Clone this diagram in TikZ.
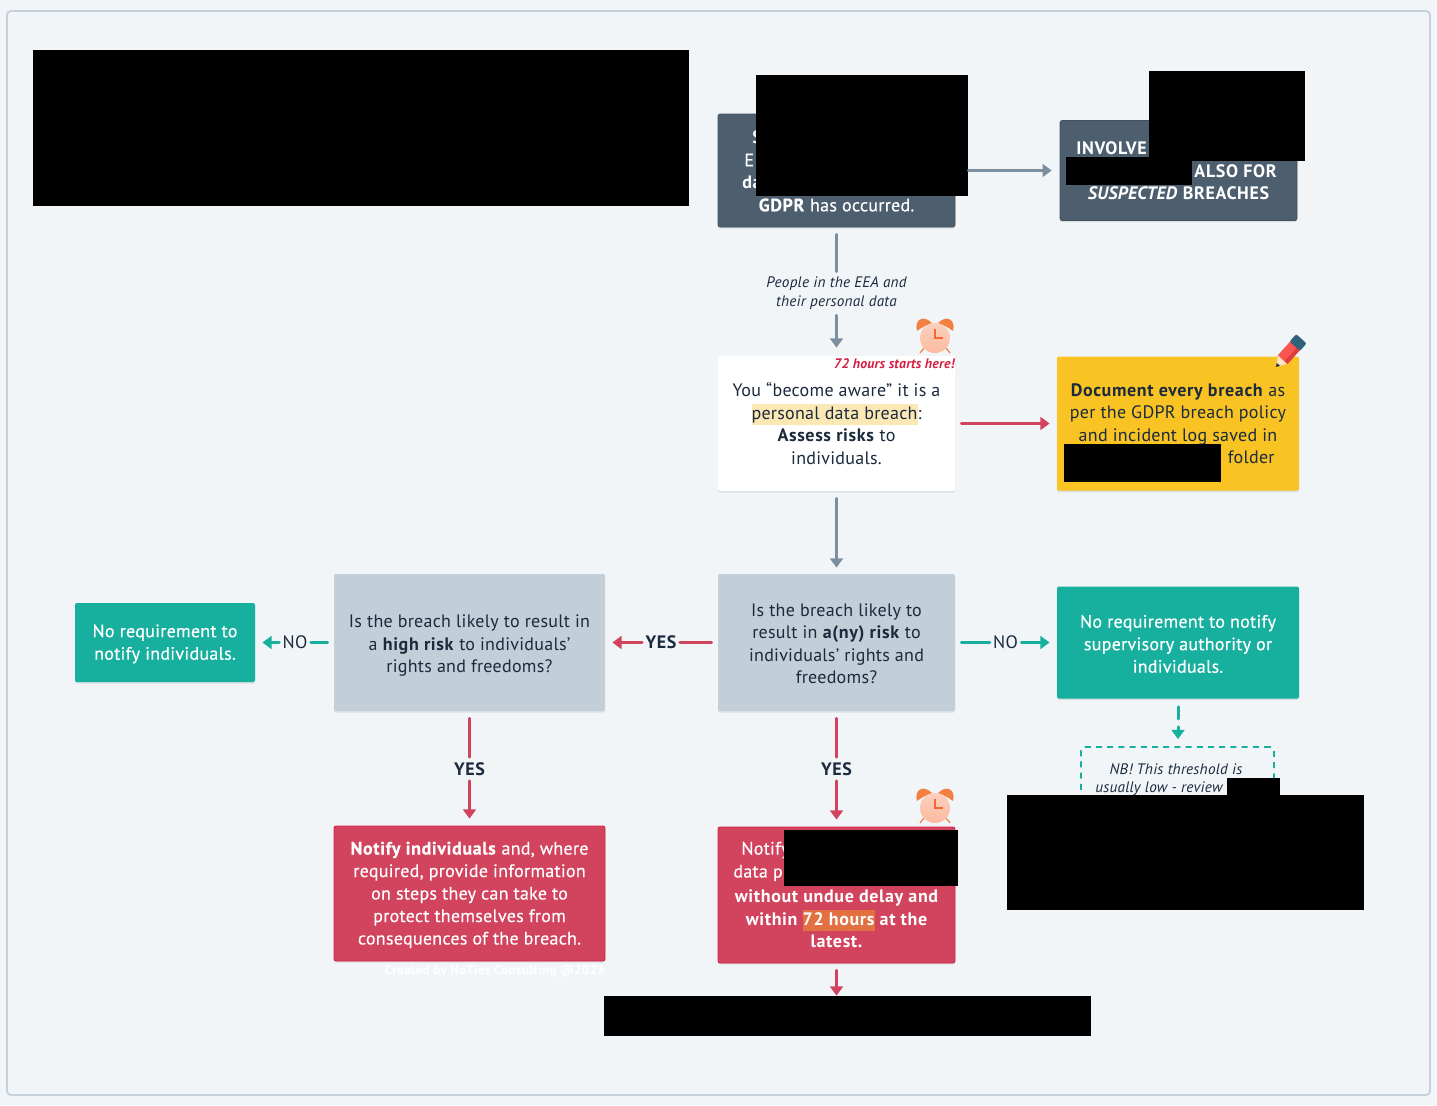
\documentclass[tikz,border=0pt]{standalone}
\usepackage{fontspec}
\setmainfont{PT Sans}[LetterSpace=1.5,BoldFeatures={LetterSpace=3.5}]
\newfontfamily\wfont{PT Sans}[LetterSpace=1.5,FakeBold=0.35,BoldFeatures={LetterSpace=3.5}]
\usetikzlibrary{arrows.meta,shadows,calc}
\definecolor{pagebg}{HTML}{F2F5F8}
\definecolor{framec}{HTML}{C6D1DB}
\definecolor{slate}{HTML}{4D5F6F}
\definecolor{ink}{HTML}{1B2A3D}
\definecolor{greyb}{HTML}{C2CFD9}
\definecolor{arrowg}{HTML}{7C8FA1}
\definecolor{redb}{HTML}{D2435E}
\definecolor{redd}{HTML}{D61F45}
\definecolor{greenb}{HTML}{17AF9D}
\definecolor{yellowb}{HTML}{F8C323}
\definecolor{hlyellow}{HTML}{FCE8B4}
\definecolor{hlorange}{HTML}{E27040}
\definecolor{clockb}{HTML}{FBBBA0}
\definecolor{clocko}{HTML}{F28040}
\definecolor{pencilr}{HTML}{F8564F}
\definecolor{pencild}{HTML}{E03E3E}
\definecolor{pencilt}{HTML}{2F6378}
\definecolor{pencilw}{HTML}{FBE3C8}
\newcommand{\hlt}[2]{{\setlength{\fboxsep}{0pt}\colorbox{#1}{\vrule height 7.6pt depth 2.8pt width 0pt #2}}}
\newcommand{\tpa}{\rule{0pt}{7.8pt}}
\newcommand{\tpb}{\rule{0pt}{9.8pt}}
\tikzset{
  x=0.5pt,y=-0.5pt,
  box/.style={rectangle,rounded corners=1pt,inner sep=0pt,align=center,font=\fontsize{9}{11.25}\selectfont,
    text=ink,drop shadow={opacity=.18,shadow xshift=0pt,shadow yshift=-0.8pt,shadow scale=1.0}},
  darkbox/.style={box,fill=slate,text=white,draw=slate!85!black,line width=.3pt,font=\fontsize{9}{11.25}\bfseries\selectfont},
  whitebox/.style={box,fill=white},
  greybox/.style={box,fill=greyb},
  redbox/.style={box,fill=redb,draw=redd,line width=.4pt,text=white,font=\fontsize{9}{11.25}\wfont},
  greenbox/.style={box,fill=greenb,text=white,font=\fontsize{9}{11.25}\wfont},
  yellowbox/.style={box,fill=yellowb},
  hidden/.style={fill=black,inner sep=0pt,rectangle},
  txt/.style={inner sep=0pt,text=ink,font=\fontsize{9}{11.25}\selectfont},
  small/.style={inner sep=0pt,text=ink,align=center,font=\fontsize{7.6}{9.6}\itshape\selectfont},
  lab/.style={inner sep=0pt,text=ink,font=\fontsize{9}{11}\selectfont},
  labb/.style={inner sep=0pt,text=ink,font=\fontsize{9}{11}\bfseries\selectfont},
  conn/.style={line width=1.5pt,line cap=round},
  head/.style={-{Triangle[length=4.6pt,width=6.4pt]}},
  gline/.style={conn,draw=arrowg},
  rline/.style={conn,draw=redb},
  tline/.style={conn,draw=greenb},
  alarm/.pic={
    \fill[clocko] (-18,-7) .. controls (-21,-18) and (-12,-24) .. (-3,-15) .. controls (-9,-13) and (-14,-10) .. (-18,-7) -- cycle;
    \fill[clocko] (18,-7) .. controls (21,-18) and (12,-24) .. (3,-15) .. controls (9,-13) and (14,-10) .. (18,-7) -- cycle;
    \draw[clocko,line width=.6pt] (-11,10) -- (-15,15) (11,10) -- (15,15);
    \shade[top color=clockb!70!white,bottom color=clockb,draw=none] (0,0) circle [radius=15];
    \draw[clocko!80!red,line width=.7pt] (0,-9) -- (0,0) -- (8,0);
  },
  pencil/.pic={
    \fill[pencilw] (0,0) -- (10,-6) -- (10,6) -- cycle;
    \fill[ink] (0,0) -- (3.5,-2.1) -- (3.5,2.1) -- cycle;
    \fill[pencilr] (10,-6.5) rectangle (30,6.5);
    \fill[pencild] (10,2.5) rectangle (30,6.5);
    \fill[pencilt,rounded corners=1pt] (28,-7) rectangle (38,7);
  }
}
\begin{document}
\begin{tikzpicture}
\path[use as bounding box,fill=pagebg] (0,0) rectangle (1437,1105);
\draw[framec,line width=.9pt,rounded corners=2pt] (7,11) rectangle (1430,1095);

% boxes
\node[darkbox,minimum width=118.5pt,minimum height=56.5pt] (aware) at (836.5,170.5) {};
\node[darkbox,minimum width=118.5pt,minimum height=50pt] (dpo) at (1178.5,170.5) {\phantom{X}\\\phantom{X}\\\textit{SUSPECTED} BREACHES};
\node[whitebox,minimum width=118.5pt,minimum height=67.5pt] (become) at (836.5,423.5) {You “become aware” it is a\\\hlt{hlyellow}{personal data breach}:\\\textbf{Assess risks} to\\individuals.};
\node[yellowbox,minimum width=121pt,minimum height=67pt] (doc) at (1178,423.5) {\textbf{Document every breach} as\\per the GDPR breach policy\\and incident log saved in\\\phantom{X}};
\node[greybox,minimum width=118.5pt,minimum height=68.5pt] (q1) at (836.5,642.5) {\tpa Is the breach likely to\\result in \textbf{a(ny) risk} to\\individuals’ rights and\\freedoms?};
\node[greybox,minimum width=135.5pt,minimum height=68.5pt] (q2) at (469.5,642.5) {\tpb Is the breach likely to result in\\a \textbf{high risk} to individuals’\\rights and freedoms?};
\node[greenbox,minimum width=90pt,minimum height=39.5pt] (nind) at (165,642.5) {\tpa No requirement to\\notify individuals.};
\node[greenbox,minimum width=121pt,minimum height=56pt] (nsup) at (1178,642.5) {\tpa No requirement to notify\\supervisory authority or\\individuals.};
\node[redbox,minimum width=135.5pt,minimum height=67.5pt] (nindr) at (469.5,893.5) {\tpa\textbf{Notify individuals} and, where\\required, provide information\\on steps they can take to\\protect themselves from\\consequences of the breach.};
\node[redbox,minimum width=118.5pt,minimum height=68pt,font=\fontsize{9}{11.25}\bfseries\selectfont] (nsa) at (836.5,895) {\tpa\phantom{X}\\\phantom{X}\\without undue delay and\\within \hlt{hlorange}{72 hours} at the\\latest.};
\node[draw=greenb,dashed,dash pattern=on 3pt off 2.6pt,line width=.9pt,rounded corners=2pt,inner sep=0pt,minimum width=96.5pt,minimum height=40pt] (nb) at (1177.5,787) {};

% fragments of text left uncovered
\node[txt,text=white,anchor=west,font=\fontsize{9}{11.25}\bfseries\selectfont] (f1) at (752,137) {S};
\node[txt,text=white,anchor=west,font=\fontsize{9}{11.25}\wfont] (f2) at (744,160) {E};
\node[txt,text=white,anchor=west,font=\fontsize{9}{11.25}\bfseries\selectfont] (f3) at (742,182) {da};
\node[txt,text=white,font=\fontsize{9}{11.25}\wfont] (f4) at (836.5,205) {\textbf{GDPR} has occurred.};
\node[txt,text=white,anchor=west,font=\fontsize{9}{11.25}\bfseries\selectfont] (f5) at (1076,148) {INVOLVE};
\node[txt,text=white,anchor=east,font=\fontsize{9}{11.25}\bfseries\selectfont] (f6) at (1277,171) {ALSO FOR};
\node[txt,anchor=east] (f7) at (1275,457) {folder};
\node[txt,text=white,anchor=west,font=\fontsize{9}{11.25}\wfont] (f8) at (741,850) {Notify};
\node[txt,text=white,anchor=west,font=\fontsize{9}{11.25}\wfont] (f9) at (733,873) {data p};
\node[small] (nb1) at (1176,769) {NB! This threshold is};
\node[small,anchor=west] (nb2) at (1095,789) {usually low - review};
\node[inner sep=0pt,anchor=east,text=redd,font=\fontsize{6.9}{8}\bfseries\itshape\selectfont] (starts) at (955,364) {72 hours starts here!};
\node[inner sep=0pt,anchor=east,text=white,font=\fontsize{6.4}{8}\bfseries\selectfont] (credit) at (605,971) {Created by NoTies Consulting @2023};

% labels on connectors
\node[small] (people) at (836.5,293.5) {People in the EEA and\\their personal data};
\node[lab] (no1) at (1005.5,642.5) {NO};
\node[lab] (no2) at (295,642.5) {NO};
\node[labb] (yes1) at (661,642.5) {YES};
\node[labb] (yes2) at (836.5,769) {YES};
\node[labb] (yes3) at (469.5,769) {YES};

% redactions
\node[hidden,minimum width=328pt,minimum height=78pt] (r1) at (361,128) {};
\node[hidden,minimum width=106pt,minimum height=60.5pt] (r2) at (862,135.5) {};
\node[hidden,minimum width=78pt,minimum height=45pt] (r3) at (1227,116) {};
\node[hidden,minimum width=63pt,minimum height=14pt] (r4) at (1129,171) {};
\node[hidden,minimum width=78.5pt,minimum height=19pt] (r5) at (1142.5,463) {};
\node[hidden,minimum width=87pt,minimum height=28pt] (r6) at (871,858) {};
\node[hidden,minimum width=26.5pt,minimum height=9pt] (r7) at (1253.5,786.5) {};
\node[hidden,minimum width=178.5pt,minimum height=57.5pt] (r8) at (1185.5,852.5) {};
\node[hidden,minimum width=243.5pt,minimum height=20pt] (r9) at (847.5,1016) {};

% connectors
\draw[gline,head,shorten <=6.5pt,shorten >=4pt] (aware.east) -- (dpo.west);
\draw[gline,shorten <=3.5pt,shorten >=2.5pt] (aware.south) -- (people.north);
\draw[gline,head,shorten <=2.5pt,shorten >=4pt] (people.south) -- (become.north);
\draw[rline,head,shorten <=3pt,shorten >=3.5pt] (become.east) -- (doc.west);
\draw[gline,head,shorten <=3.5pt,shorten >=3pt] (become.south) -- (q1.north);
\draw[tline,shorten <=3pt,shorten >=1.5pt] (q1.east) -- (no1.west);
\draw[tline,head,shorten <=1.5pt,shorten >=3.5pt] (no1.east) -- (nsup.west);
\draw[rline,shorten <=3pt,shorten >=1.5pt] (q1.west) -- (yes1.east);
\draw[rline,head,shorten <=1.5pt,shorten >=3.5pt] (yes1.west) -- (q2.east);
\draw[tline,shorten <=3pt,shorten >=1.5pt] (q2.west) -- (no2.east);
\draw[tline,head,shorten <=1.5pt,shorten >=3.5pt] (no2.west) -- (nind.east);
\draw[rline,shorten <=3.5pt,shorten >=2.5pt] (q1.south) -- (yes2.north);
\draw[rline,head,shorten <=2.5pt,shorten >=3.5pt] (yes2.south) -- (nsa.north);
\draw[rline,shorten <=3.5pt,shorten >=2.5pt] (q2.south) -- (yes3.north);
\draw[rline,head,shorten <=2.5pt,shorten >=3.5pt] (yes3.south) -- (nindr.north);
\draw[rline,head,shorten <=3.5pt] (nsa.south) -- (nsa.south |- r9.north);
\draw[tline,head,dash pattern=on 6pt off 4pt on 8pt,shorten <=4pt,shorten >=3.5pt] (nsup.south) -- (nb.north -| nsup.south);

% icons
\pic at (935,338) {alarm};
\pic at (935,808) {alarm};
\pic[rotate=48] at (1276,367) {pencil};
\end{tikzpicture}
\end{document}
